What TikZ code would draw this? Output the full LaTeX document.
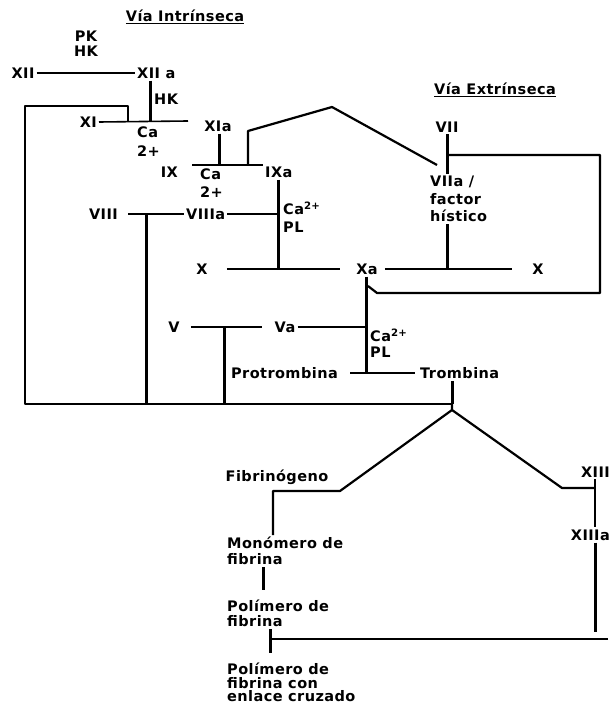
\documentclass[tikz,border=0pt]{standalone}
\usepackage{fontspec}
\setmainfont{DejaVu Sans}[LetterSpace=3]

\begin{document}
\begin{tikzpicture}[x=1pt, y=-1pt,
    lab/.style={font=\fontsize{14.5}{16}\selectfont\bfseries, inner sep=2pt},
    multi/.style={lab, align=left, anchor=north west},
    bar/.style={line width=1.6pt},
    stem/.style={line width=3pt},
    link/.style={line width=2.2pt, line join=round}]
  \fill[white] (0,0) rectangle (612,714);
  \useasboundingbox (0,0) rectangle (612,714);

  % via intrinseca
  \node[lab] (intr) at (185,17) {\underline{Vía Intrínseca}};
  \node[lab, align=center, anchor=north] (pkhk) at (86,29) {PK\\[-1pt]HK};
  \node[lab] (xii) at (23,73) {XII};
  \node[lab, anchor=west] (xiia) at (135,73) {XII a};
  \node[lab, anchor=west] (hk) at (152,99) {HK};
  \node[lab, anchor=east] (xi) at (99,122) {XI};
  \node[multi] (ca1) at (135,125) {Ca\\[3pt]2+};
  \node[lab] (xia) at (218,126) {XIa};
  \node[lab, anchor=east] (ix) at (180,172) {IX};
  \node[multi] (ca2) at (198,167) {Ca\\[2pt]2+};
  \node[lab, anchor=west] (ixa) at (263,172) {IXa};
  \node[lab, anchor=east] (viii) at (120,214) {VIII};
  \node[lab, anchor=west] (viiia) at (184,214) {VIIIa};
  \node[multi] (ca3) at (281,200) {Ca\textsuperscript{2+}\\[2pt]PL};
  \node[lab] (xl) at (202,269) {X};
  \node[lab] (xa) at (367,269) {Xa};
  \node[lab] (xr) at (538,269) {X};

  % via extrinseca
  \node[lab] (extr) at (495,90) {\underline{Vía Extrínseca}};
  \node[lab] (vii) at (447,127) {VII};
  \node[multi] (viia) at (428,174) {VIIa /\\[1.5pt]factor\\[1.5pt]hístico};

  % via comun
  \node[lab] (v) at (174,327) {V};
  \node[lab] (va) at (285,327) {Va};
  \node[multi] (ca4) at (368,327) {Ca\textsuperscript{2+}\\PL};
  \node[lab, anchor=east] (protr) at (340,373) {Protrombina};
  \node[lab, anchor=west] (tromb) at (418,373) {Trombina};
  \node[lab] (fibrinog) at (277,477) {Fibrinógeno};
  \node[multi] (monom) at (225,535) {Monómero de\\fibrina};
  \node[multi] (polim) at (225,598) {Polímero de\\[-1pt]fibrina};
  \node[multi] (polimx) at (225,661) {Polímero de\\[-2.5pt]fibrina con\\[-2.5pt]enlace cruzado};
  \node[lab, anchor=east] (xiii) at (612,472) {XIII};
  \node[lab, anchor=east] (xiiia) at (612,535) {XIIIa};

  \coordinate (jXII) at (150,121);
  \coordinate (jXI) at (128,121);
  \coordinate (xiend) at (188,121);
  \coordinate (tl) at (25,106);
  \coordinate (bl) at (25,404);
  \coordinate (thr) at (452,404);
  \coordinate (jXIa) at (219,165);
  \coordinate (ixs) at (192,165);
  \coordinate (k1) at (248,165);
  \coordinate (k2) at (248,131);
  \coordinate (k3) at (332,107);
  \coordinate (k4) at (437,165);
  \coordinate (jIXa) at (278,269);
  \coordinate (jVIII) at (146,214);
  \coordinate (jVIIa) at (447,269);
  \coordinate (r1) at (600,155);
  \coordinate (r2) at (600,293);
  \coordinate (r3) at (377,293);
  \coordinate (r4) at (368,286);
  \coordinate (jXa) at (366,372);
  \coordinate (jV) at (224,327);
  \coordinate (ap) at (452,410);
  \coordinate (f1) at (340,491);
  \coordinate (f2) at (273,491);
  \coordinate (g1) at (562,488);
  \coordinate (g2) at (595,488);
  \coordinate (h1) at (595,632);
  \coordinate (h2) at (608,639);
  \coordinate (h3) at (272,639);
  \coordinate (m1) at (263,590);
  \coordinate (t1) at (270,653);

  \draw[bar] (xii.east) -- (xii.east -| xiia.west);
  \draw[stem] (jXII |- xiia.south) -- (jXII);
  \draw[bar] (xi.east) -- (xiend);
  \draw[link] (jXI) -- (jXI |- tl) -- (tl) -- (bl) -- (thr);
  \draw[stem] (jXIa |- xia.south) -- (jXIa);
  \draw[bar] (ixs) -- (ixa.west |- ixs);
  \draw[link] (k1) -- (k2) -- (k3) -- (k4);
  \draw[stem] (jIXa |- ixa.south) -- (jIXa);
  \draw[bar, shorten <=8pt] (viii.east) -- (viiia.west);
  \draw[stem] (jVIII) -- (jVIII |- bl);
  \draw[bar] (viiia.east) -- (jIXa |- viiia.east);
  \draw[bar, shorten <=17pt, shorten >=14pt] (xl.east) -- (xa.west);
  \draw[bar, shorten <=5pt, shorten >=18pt] (xa.east) -- (xr.west);

  \draw[stem] (vii.south) -- (vii.south |- viia.north);
  \draw[stem] (jVIIa |- viia.south) -- (jVIIa);
  \draw[link] (vii.south |- r1) -- (r1) -- (r2) -- (r3) -- (r4);

  \draw[stem] (jXa |- xa.south) -- (jXa);
  \draw[bar, shorten <=9pt, shorten >=10pt] (v.east) -- (va.west);
  \draw[stem] (jV) -- (jV |- bl);
  \draw[bar] (va.east) -- (jXa |- va.east);
  \draw[bar, shorten <=10pt, shorten >=3pt] (protr.east) -- (tromb.west);
  \draw[stem] (thr |- tromb.south) -- (thr);

  \draw[link] (thr) -- (ap) -- (f1) -- (f2) -- (f2 |- monom.north);
  \draw[link] (ap) -- (g1) -- (g2);
  \draw[link] (g2 |- xiii.south) -- (g2 |- xiiia.north);
  \draw[stem] (h1 |- xiiia.south) -- (h1);
  \draw[link] (h2) -- (h3);
  \draw[stem] (m1 |- monom.south) -- (m1);
  \draw[stem] (t1 |- polim.south) -- (t1);
\end{tikzpicture}
\end{document}
